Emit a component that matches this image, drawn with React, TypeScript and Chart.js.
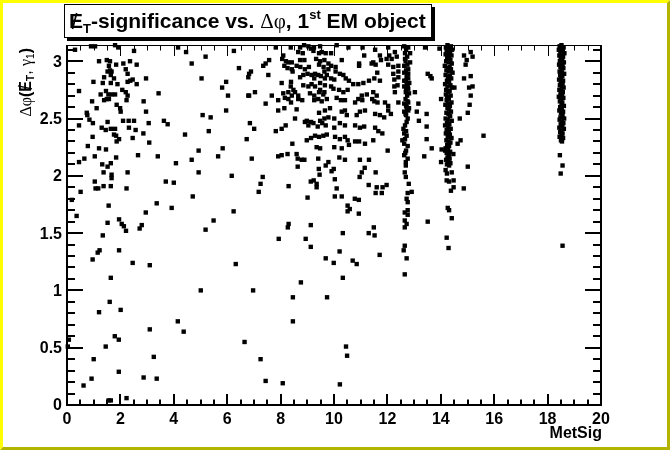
import React, { useEffect, useRef } from "react";
import { Chart, registerables } from "chart.js";
Chart.register(...registerables);

type P = [number, number];

const X_TICK_LABELS = ["0", "2", "4", "6", "8", "10", "12", "14", "16", "18", "20"];
const Y_TICK_LABELS = ["0", "0.5", "1", "1.5", "2", "2.5", "3"];
const X_TITLE = "MetSig";
const X_MIN = 0;
const X_MAX = 20;
const Y_MIN = 0;
const Y_MAX = 3.1416;

// events at low MetSig (0 - 7)
const lowUpper: P[] = [
  [0.30,3.10],[0.90,3.13],[1.05,3.13],[1.80,3.14],[1.92,3.12],[2.51,3.09],[1.20,3.00],[1.49,3.01],[1.61,3.00],[1.84,2.97],
  [2.11,2.98],[2.36,3.00],[2.61,2.97],[1.57,2.96],[1.61,2.92],[1.52,2.91],[1.67,2.91],[2.20,2.93],[2.27,2.89],[1.64,2.88],
  [1.39,2.86],[1.76,2.85],[2.46,2.84],[2.37,2.83],[2.27,2.82],[2.61,2.80],[2.96,2.85],[0.99,2.82],[1.34,2.81],[1.64,2.81],
  [1.89,2.80],[0.45,2.74],[1.46,2.74],[2.07,2.75],[2.20,2.73],[1.26,2.71],[1.55,2.71],[1.67,2.71],[1.80,2.71],[2.27,2.70],
  [3.43,2.72],[1.49,2.67],[1.57,2.67],[1.39,2.66],[2.23,2.66],[0.94,2.65],[2.87,2.65],[1.86,2.62],[1.11,2.59],[1.99,2.59],
  [2.01,2.56],[2.96,2.56],[0.74,2.55],[0.76,2.53],[0.84,2.49],[1.52,2.47],[2.10,2.48],[2.31,2.48],[2.51,2.48],[0.97,2.46],
  [3.06,2.46],[3.63,2.48],[3.77,2.45],[0.45,2.44],[2.32,2.42],[1.30,2.42],[1.45,2.40],[1.64,2.41],[1.80,2.41],[2.57,2.40],
  [2.86,2.37],[1.76,2.36],[1.84,2.35],[0.96,2.34],[1.95,2.32],[2.46,2.33],[1.86,2.30],[3.08,2.29],[0.78,2.26],[1.20,2.24],
  [1.46,2.23],[1.04,2.17],[0.65,2.15],[1.84,2.16],[2.66,2.18],[3.40,2.17],[0.45,2.12],[1.32,2.10],[1.64,2.11],[4.08,2.11],
  [4.67,2.14],[4.16,3.12],[4.46,3.08],[5.19,3.04],[6.25,3.09],[4.67,2.98],[6.44,2.94],[5.04,2.85],[5.96,2.82],[6.79,2.86],
  [5.81,2.77],[6.03,2.70],[6.79,2.70],[5.96,2.57],[5.08,2.53],[5.38,2.51],[6.85,2.46],[5.31,2.39],[4.42,2.36],[6.73,2.32],
  [4.93,2.22],[5.83,2.24],[5.66,2.17],
];

const lowMiddle: P[] = [
  [1.52,2.08],[1.37,2.03],[1.67,2.01],[1.67,1.98],[2.27,2.03],[4.93,2.03],[6.17,2.00],[1.04,1.95],[1.37,1.91],[1.64,1.91],
  [1.07,1.89],[1.17,1.89],[2.23,1.89],[3.70,1.95],[4.00,1.94],[0.51,1.86],[4.71,1.82],[0.18,1.79],[3.36,1.76],[1.56,1.74],
  [3.92,1.72],[2.95,1.68],[6.24,1.69],[0.36,1.65],[1.95,1.62],[5.49,1.61],[1.52,1.59],[2.05,1.58],[2.13,1.56],[2.80,1.57],
  [2.21,1.52],[2.72,1.54],[5.19,1.53],[1.34,1.48],[1.22,1.35],[1.15,1.33],[1.95,1.35],[0.96,1.27],[2.46,1.24],[3.10,1.22],
  [6.32,1.23],[1.64,1.11],
];

const lowBottom: P[] = [
  [5.01,1.00],[1.60,0.90],[1.20,0.81],[2.01,0.83],[4.15,0.73],[3.10,0.66],[4.37,0.64],[1.79,0.60],[1.94,0.57],[0.07,0.57],
  [6.65,0.55],[0.03,0.51],[1.45,0.51],[1.00,0.40],[3.25,0.42],[1.94,0.29],[0.92,0.23],[2.87,0.24],[3.36,0.23],[0.62,0.17],
  [2.23,0.06],[1.56,0.04],[1.64,0.04],
];

// events at medium MetSig (7 - 14)
const midUpper: P[] = [
  [7.82,3.12],[8.38,3.12],[8.73,3.12],[8.88,3.14],[9.04,3.13],[9.13,3.11],[9.25,3.12],[9.48,3.13],[10.10,3.14],[10.54,3.12],
  [11.07,3.12],[11.54,3.10],[12.03,3.12],[12.63,3.13],[12.78,3.12],[13.41,3.12],[8.10,3.05],[8.66,3.08],[8.83,3.07],[9.23,3.09],
  [9.44,3.07],[9.54,3.08],[9.69,3.07],[9.89,3.07],[11.13,3.05],[11.72,3.05],[12.07,3.05],[12.28,3.08],[12.66,3.07],[12.85,3.07],
  [7.57,3.01],[7.44,2.98],[7.35,2.96],[8.06,3.02],[8.20,3.00],[8.29,2.99],[8.42,2.99],[8.73,3.01],[8.89,3.01],[9.33,3.02],
  [9.48,3.00],[9.64,3.01],[9.79,2.98],[10.29,3.01],[10.94,2.98],[11.47,2.99],[11.76,3.01],[11.97,3.02],[12.16,3.02],[12.35,3.04],
  [12.66,3.02],[12.85,2.99],[8.14,2.96],[8.26,2.94],[8.42,2.93],[8.60,2.96],[8.74,2.95],[8.91,2.93],[9.06,2.95],[9.44,2.97],
  [9.61,2.95],[9.79,2.93],[9.89,2.96],[10.06,2.95],[10.94,2.96],[11.41,2.98],[11.56,2.97],[12.03,2.97],[12.22,2.95],[12.41,2.96],
  [12.63,2.96],[12.78,2.93],[6.82,2.89],[6.89,2.91],[7.54,2.88],[8.45,2.91],[8.85,2.88],[9.01,2.89],[9.16,2.88],[9.29,2.89],
  [9.41,2.88],[9.64,2.91],[9.73,2.88],[10.06,2.91],[10.22,2.89],[10.35,2.88],[11.62,2.90],[12.22,2.89],[12.41,2.91],[12.63,2.90],
  [12.78,2.89],[12.72,2.86],[13.51,2.89],[13.61,2.87],[8.39,2.82],[8.73,2.86],[9.26,2.85],[9.51,2.87],[9.66,2.85],[9.89,2.85],
  [10.01,2.84],[10.44,2.85],[10.56,2.83],[10.72,2.80],[10.91,2.80],[11.10,2.81],[11.31,2.83],[11.51,2.85],[11.72,2.83],[12.26,2.84],
  [12.41,2.86],[12.63,2.83],[12.78,2.85],[12.72,2.80],[12.82,2.81],[9.48,2.81],[9.66,2.79],[9.16,2.80],[8.04,2.81],[8.38,2.78],
  [8.48,2.75],[8.85,2.79],[9.04,2.78],[9.29,2.78],[9.48,2.75],[9.64,2.73],[9.89,2.78],[9.98,2.76],[10.19,2.75],[10.35,2.73],
  [10.51,2.75],[12.26,2.78],[12.38,2.79],[12.63,2.78],[12.78,2.76],[12.69,2.73],[12.81,2.72],[13.03,2.73],[7.04,2.73],[6.82,2.70],
  [7.67,2.70],[8.10,2.72],[8.29,2.73],[8.42,2.70],[8.54,2.73],[8.66,2.70],[9.10,2.72],[9.26,2.70],[9.44,2.73],[9.60,2.71],
  [11.04,2.70],[11.23,2.71],[11.47,2.73],[11.60,2.70],[12.28,2.73],
];

const midLower: P[] = [
  [7.44,2.63],[7.91,2.66],[8.16,2.68],[8.29,2.67],[8.39,2.64],[8.66,2.67],[8.81,2.66],[9.26,2.66],[9.41,2.67],[9.54,2.65],
  [9.73,2.67],[10.10,2.68],[10.26,2.66],[10.41,2.66],[10.79,2.64],[10.91,2.67],[11.06,2.66],[11.43,2.67],[11.51,2.65],[11.63,2.64],
  [11.91,2.64],[12.03,2.61],[12.41,2.64],[12.63,2.63],[12.78,2.64],[12.72,2.60],[12.81,2.59],[13.16,2.63],[7.91,2.57],[8.14,2.59],
  [8.60,2.58],[9.44,2.55],[9.66,2.57],[9.85,2.59],[10.29,2.56],[10.41,2.57],[10.48,2.53],[10.85,2.53],[10.97,2.56],[11.16,2.57],
  [11.54,2.54],[11.72,2.53],[11.88,2.51],[12.03,2.57],[12.13,2.54],[12.63,2.56],[12.78,2.57],[12.70,2.53],[12.76,2.50],[13.10,2.56],
  [13.47,2.54],[8.54,2.50],[8.98,2.48],[9.14,2.47],[9.48,2.48],[9.64,2.50],[9.79,2.51],[10.01,2.50],[7.01,2.41],[7.82,2.39],
  [8.04,2.41],[8.19,2.44],[8.91,2.47],[9.04,2.44],[9.23,2.46],[9.39,2.43],[9.56,2.46],[9.69,2.44],[10.01,2.42],[10.22,2.46],
  [10.41,2.44],[10.79,2.44],[10.97,2.42],[11.13,2.43],[11.54,2.42],[11.66,2.39],[11.81,2.37],[12.60,2.41],[12.63,2.37],[12.72,2.35],
  [13.18,2.48],[13.47,2.43],[8.44,2.28],[8.98,2.31],[9.14,2.33],[9.29,2.35],[9.44,2.34],[9.60,2.35],[9.73,2.36],[10.04,2.34],
  [10.22,2.32],[10.41,2.34],[10.51,2.31],[10.79,2.30],[10.94,2.30],[11.16,2.28],[11.47,2.31],[12.56,2.31],[12.63,2.28],[12.76,2.26],
  [13.47,2.32],[9.35,2.25],[9.48,2.24],[10.01,2.25],[10.29,2.24],[10.56,2.27],[12.01,2.22],[7.91,2.17],[8.04,2.18],[8.26,2.19],
  [8.60,2.19],[8.64,2.15],[8.79,2.14],[8.89,2.14],[9.41,2.15],[9.79,2.12],[10.20,2.16],[10.41,2.14],[10.97,2.14],[11.31,2.14],
  [12.63,2.18],[12.76,2.15],[12.69,2.12],[6.92,2.15],[13.38,2.17],
];

const midLow: P[] = [
  [8.64,2.08],[9.43,2.06],[9.69,2.09],[9.91,2.04],[9.99,2.06],[11.15,2.07],[11.04,2.03],[11.56,2.03],[12.69,2.09],[12.65,2.03],
  [12.69,1.99],[7.33,1.99],[9.46,2.01],[10.96,1.99],[10.03,1.97],[9.24,1.96],[9.13,1.95],[7.25,1.93],[8.30,1.91],[9.35,1.93],
  [9.35,1.90],[11.30,1.92],[11.60,1.90],[11.82,1.90],[11.97,1.92],[12.80,1.93],[10.10,1.89],[7.18,1.86],[11.56,1.85],[11.79,1.85],
  [12.76,1.85],[12.91,1.86],[9.01,1.81],[10.03,1.82],[10.29,1.82],[10.78,1.80],[10.93,1.79],[12.72,1.80],[12.76,1.77],[10.51,1.74],
  [10.59,1.71],[10.51,1.69],[10.93,1.67],[12.76,1.70],[12.65,1.68],[12.76,1.66],[13.51,1.60],[12.65,1.61],[12.72,1.58],[12.65,1.55],
  [8.30,1.58],[8.27,1.55],[9.13,1.57],[11.49,1.55],[10.33,1.50],[11.30,1.50],[11.52,1.48],[7.93,1.45],[8.94,1.45],[9.13,1.38],
  [12.65,1.39],[12.61,1.35],[10.21,1.34],[11.71,1.31],[9.69,1.28],[12.72,1.28],[9.99,1.24],[10.70,1.26],[10.85,1.23],[12.65,1.14],
  [10.33,1.11],[8.76,1.07],[6.97,1.00],[8.46,0.94],[9.74,0.94],[8.46,0.73],[10.45,0.51],[10.49,0.43],[7.25,0.40],[7.44,0.21],
  [8.08,0.19],[10.22,0.18],
];

// the band of events at MetSig ~ 12.7
const band127: P[] = [
  [12.70,3.10],[12.74,3.04],[12.68,3.00],[12.75,2.97],[12.70,2.92],[12.74,2.87],[12.69,2.83],[12.76,2.79],[12.70,2.75],[12.74,2.70],
  [12.68,2.67],[12.75,2.65],[12.70,2.61],[12.74,2.58],[12.68,2.54],[12.72,2.47],[12.66,2.44],[12.70,2.39],[12.66,2.32],[12.70,2.22],
  [12.67,2.20],
];

// events at high MetSig (> 13.5)
const highLoose: P[] = [
  [13.95,3.11],[15.12,3.08],[14.87,3.05],[15.19,3.04],[14.97,3.01],[14.93,2.97],[13.66,2.85],[15.12,2.87],[14.87,2.85],[15.19,2.78],
  [15.06,2.77],[14.51,2.77],[15.12,2.70],[14.01,2.67],[15.08,2.62],[15.01,2.55],[14.71,2.50],[15.60,2.35],[14.74,2.31],[14.63,2.28],
  [13.66,2.24],[14.03,2.23],[14.16,2.22],[14.47,2.19],[14.01,2.12],[18.46,2.18],[15.01,2.08],[14.18,2.05],[14.41,2.03],[14.23,2.02],
  [14.22,1.96],[14.31,1.95],[14.48,1.96],[14.48,1.90],[14.38,1.87],[14.86,1.89],[14.26,1.72],[14.31,1.70],[14.41,1.63],[14.22,1.46],
  [14.29,1.37],[18.56,2.09],[18.49,2.02],[18.56,1.39],
];

// the band of events at MetSig ~ 14.3
const band143: P[] = [
  [14.25,3.14],[14.38,3.13],[14.19,3.12],[14.30,3.11],[14.42,3.10],[14.22,3.09],[14.35,3.08],[14.28,3.07],[14.18,3.06],[14.40,3.05],
  [14.31,3.04],[14.24,3.03],[14.36,3.01],[14.20,3.00],[14.29,2.99],[14.41,2.98],[14.15,2.96],[14.33,2.95],[14.26,2.94],[14.38,2.93],
  [14.21,2.92],[14.30,2.91],[14.44,2.90],[14.18,2.88],[14.34,2.87],[14.27,2.86],[14.39,2.85],[14.23,2.83],[14.31,2.82],[14.16,2.80],
  [14.36,2.79],[14.25,2.78],[14.42,2.77],[14.20,2.75],[14.33,2.74],[14.28,2.73],[14.19,2.71],[14.37,2.70],[14.24,2.69],[14.30,2.67],
  [14.22,2.66],[14.40,2.64],[14.27,2.63],[14.17,2.62],[14.34,2.61],[14.25,2.59],[14.31,2.58],[14.38,2.56],[14.21,2.55],[14.29,2.54],
  [14.35,2.52],[14.18,2.50],[14.26,2.49],[14.41,2.48],[14.23,2.46],[14.32,2.45],[14.16,2.44],[14.28,2.42],[14.37,2.41],[14.22,2.40],
  [14.30,2.38],[14.19,2.37],[14.34,2.36],[14.26,2.34],[14.40,2.33],[14.21,2.31],[14.29,2.30],[14.36,2.29],[14.24,2.27],[14.31,2.26],
  [14.18,2.24],[14.27,2.23],[14.35,2.21],[14.22,2.20],[14.30,2.18],[14.25,2.16],[14.33,2.15],[14.20,2.14],[14.28,2.13],[14.36,2.11],
  [14.23,2.10],[14.31,2.09],
];

// the band of events at MetSig ~ 18.5
const band185: P[] = [
  [18.52,3.14],[18.45,3.13],[18.60,3.12],[18.50,3.11],[18.42,3.10],[18.57,3.09],[18.48,3.08],[18.63,3.07],[18.53,3.06],[18.44,3.05],
  [18.58,3.04],[18.49,3.03],[18.55,3.01],[18.46,3.00],[18.61,2.99],[18.51,2.98],[18.43,2.97],[18.56,2.96],[18.48,2.95],[18.59,2.94],
  [18.52,2.93],[18.45,2.91],[18.54,2.90],[18.62,2.89],[18.47,2.88],[18.55,2.87],[18.50,2.86],[18.43,2.84],[18.58,2.83],[18.49,2.82],
  [18.56,2.80],[18.46,2.79],[18.53,2.78],[18.60,2.77],[18.44,2.75],[18.51,2.74],[18.57,2.73],[18.48,2.71],[18.54,2.70],[18.42,2.69],
  [18.59,2.68],[18.50,2.66],[18.46,2.65],[18.55,2.64],[18.52,2.62],[18.61,2.61],[18.47,2.60],[18.53,2.58],[18.44,2.57],[18.58,2.56],
  [18.50,2.55],[18.56,2.53],[18.48,2.51],[18.62,2.50],[18.45,2.49],[18.53,2.47],[18.59,2.46],[18.49,2.45],[18.55,2.43],[18.44,2.42],
  [18.61,2.41],[18.51,2.39],[18.47,2.38],[18.56,2.37],[18.52,2.35],[18.45,2.34],[18.58,2.33],[18.50,2.31],[18.54,2.30],
];

const SANS = '"Liberation Sans", Arial, Helvetica, sans-serif';
const SERIF = '"Liberation Serif", "DejaVu Serif", "Times New Roman", serif';

type Part = { text: string; font: string; dy?: number; slash?: boolean };

function drawParts(ctx: CanvasRenderingContext2D, parts: Part[], x: number, y: number) {
  let cx = x;
  for (const p of parts) {
    ctx.font = p.font;
    ctx.fillText(p.text, cx, y + (p.dy || 0));
    const w = ctx.measureText(p.text).width;
    if (p.slash) {
      const m = ctx.measureText(p.text);
      const h = m.actualBoundingBoxAscent || w;
      ctx.save();
      ctx.lineWidth = Math.max(1.2, w * 0.12);
      ctx.beginPath();
      ctx.moveTo(cx + w * 0.25, y + 1);
      ctx.lineTo(cx + w * 0.55, y - h - 1);
      ctx.stroke();
      ctx.restore();
    }
    cx += w;
  }
  return cx - x;
}

function measureParts(ctx: CanvasRenderingContext2D, parts: Part[]) {
  let w = 0;
  for (const p of parts) {
    ctx.font = p.font;
    w += ctx.measureText(p.text).width;
  }
  return w;
}

const rootStyle = {
  id: "rootStyle",
  beforeDraw(chart: any) {
    const ctx: CanvasRenderingContext2D = chart.ctx;
    const W = chart.width;
    const H = chart.height;
    ctx.save();
    ctx.fillStyle = "#ffffff";
    ctx.fillRect(0, 0, W, H);
    const b = 3;
    // bevel border
    ctx.fillStyle = "#ffff00";
    ctx.beginPath();
    ctx.moveTo(0, 0); ctx.lineTo(W, 0); ctx.lineTo(W - b, b); ctx.lineTo(b, b); ctx.lineTo(b, H - b); ctx.lineTo(0, H);
    ctx.closePath(); ctx.fill();
    ctx.fillStyle = "#b4b400";
    ctx.beginPath();
    ctx.moveTo(W, 0); ctx.lineTo(W, H); ctx.lineTo(0, H); ctx.lineTo(b, H - b); ctx.lineTo(W - b, H - b); ctx.lineTo(W - b, b);
    ctx.closePath(); ctx.fill();
    ctx.restore();
  },
  afterDatasetsDraw(chart: any) {
    const ctx: CanvasRenderingContext2D = chart.ctx;
    const xs = chart.scales.x;
    const ys = chart.scales.y;
    const a = chart.chartArea;
    ctx.save();
    ctx.strokeStyle = "#000";
    ctx.fillStyle = "#000";
    // frame
    ctx.lineWidth = 1;
    ctx.beginPath();
    ctx.moveTo(a.left, a.top + 0.5); ctx.lineTo(a.right, a.top + 0.5);
    ctx.stroke();
    ctx.lineWidth = 2;
    ctx.beginPath();
    ctx.moveTo(a.left, a.top); ctx.lineTo(a.left, a.bottom);
    ctx.moveTo(a.left - 1, a.bottom); ctx.lineTo(a.right + 1, a.bottom);
    ctx.moveTo(a.right, a.top); ctx.lineTo(a.right, a.bottom);
    ctx.stroke();

    // x ticks (bottom and top)
    for (let i = 0; i <= 40; i++) {
      const v = X_MIN + i * 0.5;
      const px = Math.round(xs.getPixelForValue(v));
      const major = i % 4 === 0;
      const len = major ? 11 : 5.5;
      ctx.lineWidth = 2;
      ctx.beginPath();
      ctx.moveTo(px, a.bottom); ctx.lineTo(px, a.bottom - len);
      ctx.stroke();
      ctx.lineWidth = 1;
      ctx.beginPath();
      ctx.moveTo(px + 0.5, a.top); ctx.lineTo(px + 0.5, a.top + len);
      ctx.stroke();
    }
    // y ticks (left and right)
    for (let i = 0; i <= 31; i++) {
      const v = Y_MIN + i * 0.1;
      const py = Math.round(ys.getPixelForValue(v));
      const major = i % 5 === 0;
      const len = major ? 16 : 8;
      ctx.lineWidth = 2;
      ctx.beginPath();
      ctx.moveTo(a.left, py); ctx.lineTo(a.left + len, py);
      ctx.moveTo(a.right, py); ctx.lineTo(a.right - len, py);
      ctx.stroke();
    }

    // tick labels
    ctx.font = `bold 16px ${SANS}`;
    ctx.textAlign = "center";
    ctx.textBaseline = "alphabetic";
    X_TICK_LABELS.forEach((lab) => {
      const px = xs.getPixelForValue(parseFloat(lab));
      ctx.fillText(lab, px, a.bottom + 19);
    });
    ctx.textAlign = "right";
    ctx.textBaseline = "middle";
    Y_TICK_LABELS.forEach((lab) => {
      const py = ys.getPixelForValue(parseFloat(lab));
      ctx.fillText(lab, a.left - 5, py + 1);
    });

    // x title
    ctx.textAlign = "right";
    ctx.textBaseline = "alphabetic";
    ctx.font = `bold 16px ${SANS}`;
    ctx.fillText(X_TITLE, a.right + 1, a.bottom + 33);

    // y title (rotated)
    const yParts: Part[] = [
      { text: "\u0394\u03c6", font: `16px ${SERIF}` },
      { text: "(", font: `bold 16px ${SANS}` },
      { text: "E", font: `bold 16px ${SANS}`, slash: true },
      { text: "T", font: `bold 10px ${SANS}`, dy: 3 },
      { text: ", ", font: `16px ${SANS}` },
      { text: "\u03b3", font: `16px ${SERIF}` },
      { text: "1", font: `10px ${SANS}`, dy: 3 },
      { text: ")", font: `bold 16px ${SANS}` },
    ];
    ctx.textAlign = "left";
    const yw = measureParts(ctx, yParts);
    ctx.save();
    ctx.translate(31, a.top + 3 + yw);
    ctx.rotate(-Math.PI / 2);
    drawParts(ctx, yParts, 0, 0);
    ctx.restore();

    // title box
    const bx = 64, by = 4, bw = 368, bh = 34;
    ctx.fillStyle = "#000";
    ctx.fillRect(bx + 3, by + 3, bw, bh);
    ctx.fillStyle = "#fff";
    ctx.fillRect(bx, by, bw, bh);
    ctx.lineWidth = 1;
    ctx.strokeRect(bx + 0.5, by + 0.5, bw - 1, bh - 1);
    ctx.fillStyle = "#000";
    const tParts: Part[] = [
      { text: "E", font: `bold 21px ${SANS}`, slash: true },
      { text: "T", font: `bold 13px ${SANS}`, dy: 5 },
      { text: "-significance vs. ", font: `bold 21px ${SANS}` },
      { text: "\u0394\u03c6", font: `21px ${SERIF}` },
      { text: ", 1", font: `bold 21px ${SANS}` },
      { text: "st", font: `bold 13px ${SANS}`, dy: -9 },
      { text: " EM object", font: `bold 21px ${SANS}` },
    ];
    drawParts(ctx, tParts, 69, 28);
    ctx.restore();
  },
};

export default function App() {
  const ref = useRef<HTMLCanvasElement | null>(null);
  useEffect(() => {
    if (!ref.current) return;
    const all: P[] = [
      ...lowUpper, ...lowMiddle, ...lowBottom,
      ...midUpper, ...midLower, ...midLow, ...band127,
      ...highLoose, ...band143, ...band185,
    ];
    const chart = new Chart(ref.current, {
      type: "scatter",
      data: {
        datasets: [
          {
            data: all.map(([x, y]) => ({ x, y })),
            pointStyle: "rect",
            pointRadius: 3.1,
            pointHoverRadius: 3.1,
            backgroundColor: "#000",
            borderColor: "#000",
            borderWidth: 0,
            clip: false,
          } as any,
        ],
      },
      options: {
        responsive: false,
        animation: false,
        devicePixelRatio: 1,
        events: [],
        layout: { padding: { left: 67, right: 69, top: 45, bottom: 45 } },
        plugins: {
          legend: { display: false },
          tooltip: { enabled: false },
          title: { display: false },
        },
        scales: {
          x: { type: "linear", min: X_MIN, max: X_MAX, display: false },
          y: { type: "linear", min: Y_MIN, max: Y_MAX, display: false },
        },
      },
      plugins: [rootStyle as any],
    });
    return () => chart.destroy();
  }, []);
  return (
    <div style={{ position: "absolute", left: 0, top: 0, width: 670, height: 450 }}>
      <canvas ref={ref} width={670} height={450} style={{ display: "block", width: 670, height: 450 }} />
    </div>
  );
}
